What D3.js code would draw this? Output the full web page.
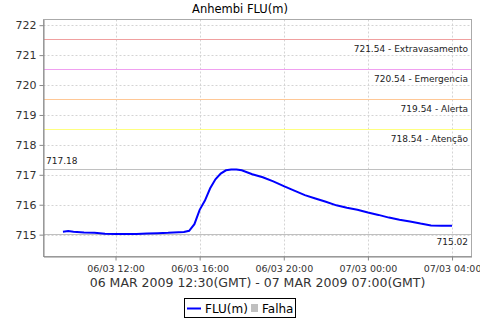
<!DOCTYPE html>
<html><head><meta charset="utf-8">
<script src="https://cdn.jsdelivr.net/npm/d3@7"></script>
<style>body{margin:0;background:#fff}svg{display:block}text{font-family:"DejaVu Sans",sans-serif}</style>
</head><body><svg id="c" width="480" height="320"></svg>
<script>
// Local time hours (06/03/2009, >24 = 07/03)
const hours = [9.5,9.75,10,10.5,11,11.5,12,12.5,13,13.5,14,14.5,15,15.25,15.5,15.75,16,16.25,16.5,16.75,17,17.25,17.5,17.75,18,18.5,19,19.5,20,20.5,21,21.5,22,22.5,23,23.5,24,24.5,25,25.5,26,26.5,27,27.5,28];
const levels = [715.10,715.12,715.10,715.07,715.06,715.03,715.02,715.02,715.02,715.04,715.05,715.06,715.08,715.09,715.13,715.35,715.83,716.14,716.55,716.85,717.04,717.15,717.18,717.18,717.15,717.02,716.92,716.78,716.62,716.47,716.32,716.21,716.10,715.98,715.90,715.83,715.74,715.66,715.57,715.50,715.44,715.37,715.31,715.30,715.30];
const markerValues = [721.54,720.54,719.54,718.54];
const markerNames = ["Extravasamento","Emergencia","Alerta","Atenção"];
const markerColors = ["#f0a0a0","#f0a0f0","#ffc896","#ffff80"];
const maxValue = 717.18, minValue = 715.02;
const yTicks = [715,716,717,718,719,720,721,722];
const xTickHours = [12,16,20,24,28];
const title = "Anhembi FLU(m)";
const xLabel = "06 MAR 2009 12:30(GMT) - 07 MAR 2009 07:00(GMT)";
const legendItems = ["FLU(m)","Falha"];

const base = Date.UTC(2009,2,6,0,0);
const toDate = h => new Date(base + h*3600000);
const data = hours.map((h,i)=>({t:toDate(h), v:levels[i]}));

const L=43.5, R=471.5, T=19.5, B=256.5;
const svg = d3.select("#c");
const x = d3.scaleUtc().domain([toDate(8.575), toDate(28.925)]).range([L,R]);
const y = d3.scaleLinear().domain([714.27,722.19]).range([B,T]);

svg.append("text").attr("x",240).attr("y",12.5).attr("text-anchor","middle").attr("font-size",11.5).attr("fill","#000").text(title);

// grid
const g = svg.append("g");
g.selectAll(".gy").data(yTicks).join("line").attr("x1",L).attr("x2",R)
 .attr("y1",d=>Math.round(y(d))+0.5).attr("y2",d=>Math.round(y(d))+0.5)
 .attr("stroke","#d4d4d4").attr("stroke-dasharray","2,2");
g.selectAll(".gx").data(xTickHours).join("line").attr("y1",T).attr("y2",B)
 .attr("x1",d=>Math.round(x(toDate(d)))+0.5).attr("x2",d=>Math.round(x(toDate(d)))+0.5)
 .attr("stroke","#d4d4d4").attr("stroke-dasharray","2,2");

// markers
markerValues.forEach((v,i)=>{
  const yy = Math.round(y(v))+0.5;
  svg.append("line").attr("x1",L).attr("x2",R).attr("y1",yy).attr("y2",yy).attr("stroke",markerColors[i]);
  svg.append("text").attr("x",468).attr("y",yy+12).attr("text-anchor","end").attr("font-size",9).attr("fill","#222").text(v.toFixed(2)+" - "+markerNames[i]);
});
[maxValue,minValue].forEach(v=>{
  const yy = Math.round(y(v))+0.5;
  svg.append("line").attr("x1",L).attr("x2",R).attr("y1",yy).attr("y2",yy).attr("stroke","#c0c0c0");
});
svg.append("text").attr("x",46).attr("y",Math.round(y(maxValue))-5).attr("font-size",9).attr("fill","#222").text(maxValue.toFixed(2));
svg.append("text").attr("x",468).attr("y",Math.round(y(minValue))+11).attr("text-anchor","end").attr("font-size",9).attr("fill","#222").text(minValue.toFixed(2));

// outline
svg.append("rect").attr("x",L).attr("y",T).attr("width",R-L).attr("height",B-T).attr("fill","none").attr("stroke","#aaa");

// series
const line = d3.line().x(d=>x(d.t)).y(d=>y(d.v));
svg.append("path").datum(data).attr("d",line).attr("fill","none").attr("stroke","#0000ff").attr("stroke-width",2);

// axes
const ya = svg.append("g").attr("transform",`translate(${L},0)`)
 .call(d3.axisLeft(y).tickValues(yTicks).tickFormat(d3.format("d")).tickSize(4).tickSizeOuter(0));
const xa = svg.append("g").attr("transform",`translate(0,${B})`)
 .call(d3.axisBottom(x).tickValues(xTickHours.map(toDate)).tickFormat(d3.utcFormat("%d/%m %H:%M")).tickSize(4).tickSizeOuter(0));
[ya,xa].forEach(a=>{a.select(".domain").attr("stroke","#888");a.selectAll(".tick line").attr("stroke","#888");
 a.selectAll("text").attr("font-family","DejaVu Sans").attr("fill","#333");});
ya.selectAll("text").attr("font-size",11).attr("x",-7);
xa.selectAll("text").attr("font-size",9.5).attr("dy","0.9em");

svg.append("text").attr("x",257.5).attr("y",286.5).attr("text-anchor","middle").attr("font-size",12.5).attr("fill","#333").text(xLabel);

// legend
const lg = svg.append("g");
lg.append("rect").attr("x",184.5).attr("y",298.5).attr("width",111).attr("height",19).attr("fill","#fff").attr("stroke","#000");
lg.append("line").attr("x1",187).attr("x2",201).attr("y1",308.5).attr("y2",308.5).attr("stroke","#0000ff").attr("stroke-width",2);
lg.append("text").attr("x",205).attr("y",313).attr("font-size",12).attr("fill","#000").text(legendItems[0]);
lg.append("rect").attr("x",251).attr("y",304).attr("width",7).attr("height",8).attr("fill","#c0c0c0");
lg.append("text").attr("x",262).attr("y",313).attr("font-size",12).attr("fill","#000").text(legendItems[1]);
</script></body></html>
